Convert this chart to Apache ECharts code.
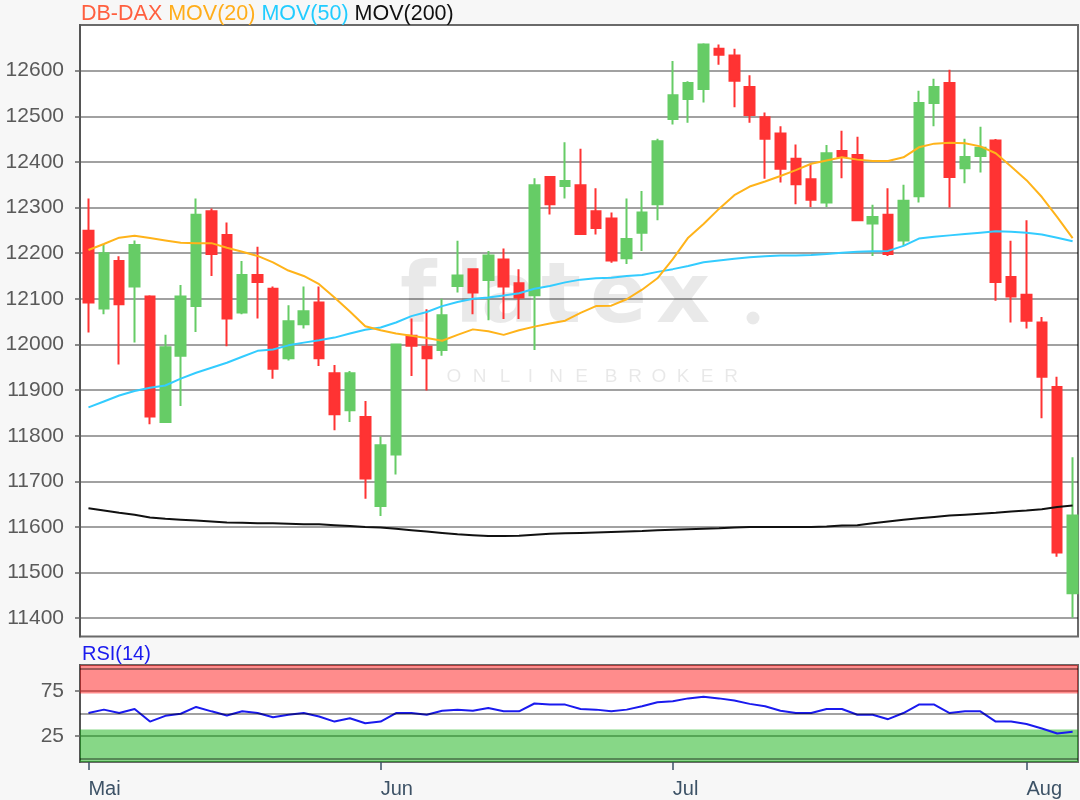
<!DOCTYPE html>
<html><head><meta charset="utf-8">
<script src="https://cdn.jsdelivr.net/npm/echarts@6/dist/echarts.min.js"></script>
<style>html,body{margin:0;padding:0;background:#f7f7f7}#c{width:1080px;height:800px}</style>
</head><body><div id="c"></div><script>
// ---- data ----
const monthLabels = ['Mai', 'Jun', 'Jul', 'Aug'];
const monthStartIndex = [0, 19, 38, 61];
const priceTicks = [11400, 11500, 11600, 11700, 11800, 11900, 12000, 12100, 12200, 12300, 12400, 12500, 12600];
const rsiTicks = [25, 75];
const rsiGuides = [0, 50, 100];

const opens  = [12249,12079,12183,12127,12105,11830,11975,12084,12292,12240,12070,12152,12122,11970,12044,12092,11937,11856,11841,11646,11759,12019,11995,11988,12128,12165,12141,12186,12134,12108,12367,12347,12349,12292,12276,12189,12245,12307,12494,12538,12560,12648,12633,12564,12498,12462,12407,12362,12311,12424,12415,12265,12284,12228,12325,12529,12573,12386,12413,12447,12148,12109,12048,11907,11455];
const closes = [12092,12200,12088,12218,11842,11994,12105,12284,12198,12057,12152,12137,11947,12051,12073,11970,11847,11937,11706,11779,12000,11997,11970,12064,12151,12114,12195,12127,12103,12349,12307,12358,12242,12255,12184,12231,12289,12445,12546,12573,12657,12635,12578,12503,12451,12385,12351,12317,12419,12412,12272,12279,12198,12315,12529,12564,12367,12411,12431,12137,12105,12052,11929,11544,11625];
const lows   = [12026,12066,11956,12004,11825,11828,11865,12027,12150,11996,12066,12057,11925,11965,12035,11953,11812,11830,11662,11624,11715,11931,11899,11975,12114,12066,12053,12056,12056,11988,12285,12320,12240,12241,12179,12176,12205,12272,12482,12486,12530,12613,12520,12486,12363,12355,12307,12301,12301,12364,12270,12194,12194,12216,12311,12478,12300,12353,12377,12096,12048,12035,11838,11535,11401];
const highs  = [12320,12220,12193,12228,12108,12021,12130,12320,12298,12267,12183,12214,12127,12086,12127,12127,11955,11942,11876,11798,12002,12057,12077,12100,12227,12167,12205,12210,12165,12364,12369,12443,12429,12342,12289,12320,12336,12451,12621,12577,12660,12657,12648,12590,12508,12478,12438,12395,12437,12468,12455,12306,12342,12350,12556,12582,12602,12451,12477,12450,12227,12272,12060,11929,11753];

const ma20  = [12207,12220,12234,12238,12233,12228,12223,12222,12222,12212,12203,12194,12180,12162,12150,12132,12103,12072,12040,12031,12024,12019,12014,12008,12021,12033,12029,12021,12031,12039,12046,12052,12069,12084,12085,12099,12120,12145,12187,12234,12264,12297,12327,12346,12357,12369,12382,12396,12403,12410,12405,12402,12402,12410,12432,12440,12442,12441,12434,12419,12390,12360,12323,12279,12233];
const ma50  = [11862,11875,11888,11898,11905,11910,11925,11938,11949,11960,11973,11986,11989,11998,12004,12009,12015,12024,12032,12037,12048,12062,12071,12084,12093,12100,12103,12107,12112,12122,12128,12136,12142,12145,12146,12150,12152,12159,12165,12172,12180,12184,12188,12191,12193,12195,12195,12196,12198,12201,12203,12204,12205,12216,12232,12236,12239,12242,12245,12248,12247,12245,12241,12234,12226];
const ma200 = [11641,11636,11631,11627,11621,11618,11616,11614,11612,11610,11609,11608,11608,11607,11606,11606,11604,11602,11600,11599,11596,11593,11590,11587,11584,11582,11580,11580,11581,11583,11585,11586,11587,11588,11589,11590,11591,11593,11594,11595,11596,11597,11599,11600,11600,11600,11600,11600,11601,11603,11604,11608,11612,11616,11619,11622,11625,11627,11629,11631,11634,11636,11639,11644,11647];
const rsi14 = [50.4,54.2,50.4,54.9,40.9,47.3,49.6,57.2,52.3,47.7,52.3,50.4,45.8,48.5,50.4,46.6,40.9,44.7,39.0,40.9,50.4,50.4,48.5,53.0,54.2,53.0,56.0,52.3,52.3,61.0,60.0,59.8,54.9,54.2,52.3,54.2,58.0,62.5,63.6,66.7,68.6,66.7,64.4,60.6,58.0,53.0,50.4,50.4,54.9,54.9,48.5,48.5,43.6,50.4,59.8,59.8,50.4,52.3,52.3,40.9,40.9,38.3,33.3,27.7,29.5];
const rsiOverbought = 72;
const rsiOversold = 32;

// ---- chart ----
const X_MIN = -0.55, X_MAX = 64.35;
const RSI_MIN = -4, RSI_MAX = 103.8;
const candleData = opens.map((o, i) => [i, o, closes[i], lows[i], highs[i]]);
const pts = arr => arr.map((v, i) => [i, v]);
const FONT = '"Liberation Sans", Arial, sans-serif';

const chart = echarts.init(document.getElementById('c'), null, {renderer: 'canvas'});

const wmLetters = [['f', 400], ['l', 455], ['a', 481], ['t', 541], ['e', 590], ['x', 656]];
const brokerLetters = 'ONLINEBROKER'.split('');
const brokerCenters = [454, 479.5, 505, 530.5, 556, 581.5, 611, 635, 659, 683, 707, 731];

const graphics = [];
wmLetters.forEach(([ch, x]) => graphics.push({
  type: 'text', z: 1, silent: true, x: x, y: 342,
  style: {text: ch, fill: 'rgba(0,0,0,0.085)', font: 'bold 84px "DejaVu Sans"', verticalAlign: 'bottom'}
}));
graphics.push({type: 'circle', z: 1, silent: true, shape: {cx: 753, cy: 318, r: 6.5}, style: {fill: 'rgba(0,0,0,0.085)'}});
brokerLetters.forEach((ch, i) => graphics.push({
  type: 'text', z: 1, silent: true, x: brokerCenters[i], y: 377,
  style: {text: ch, fill: 'rgba(0,0,0,0.09)', font: '19px "Liberation Sans"', align: 'center', verticalAlign: 'middle'}
}));

const plain = v => String(v);

const option = {
  animation: false,
  backgroundColor: '#f7f7f7',
  textStyle: {fontFamily: FONT},
  title: [
    {left: 81, top: 3, padding: 0,
     text: '{a|DB-DAX} {b|MOV(20)} {c|MOV(50)} {d|MOV(200)}',
     textStyle: {fontSize: 21.5, fontWeight: 'normal', fontFamily: FONT,
       rich: {
         a: {color: '#ff5f3f', fontSize: 21.5, fontFamily: FONT},
         b: {color: '#ffad1a', fontSize: 21.5, fontFamily: FONT},
         c: {color: '#22ccff', fontSize: 21.5, fontFamily: FONT},
         d: {color: '#111111', fontSize: 21.5, fontFamily: FONT}
       }}},
    {left: 82, top: 644, padding: 0, text: 'RSI(14)',
     textStyle: {fontSize: 20, fontWeight: 'normal', color: '#1a1aee', fontFamily: FONT}}
  ],
  graphic: graphics,
  grid: [
    {left: 80, right: 2, top: 25, height: 611.5, show: true, backgroundColor: '#ffffff', borderColor: '#6a6a6a', borderWidth: 2},
    {left: 80, right: 2, top: 665, height: 97, show: true, backgroundColor: '#ffffff', borderColor: '#6a6a6a', borderWidth: 2}
  ],
  xAxis: [
    {type: 'value', gridIndex: 0, min: X_MIN, max: X_MAX,
     axisLine: {show: false, onZero: false}, axisTick: {show: false}, axisLabel: {show: false}, splitLine: {show: false}},
    {type: 'value', gridIndex: 1, min: X_MIN, max: X_MAX, position: 'bottom',
     axisLine: {show: false, onZero: false},
     axisTick: {show: true, customValues: monthStartIndex, length: 8, lineStyle: {color: '#3d5266', width: 1.5}},
     axisLabel: {customValues: monthStartIndex, align: 'left', margin: 17, fontSize: 20, color: '#3d5266', fontFamily: FONT,
       formatter: v => monthLabels[monthStartIndex.indexOf(v)] || ''},
     splitLine: {show: false}}
  ],
  yAxis: [
    {type: 'value', gridIndex: 0, min: 11360, max: 12700, position: 'left',
     axisLine: {show: true, onZero: false, lineStyle: {color: '#555', width: 2}},
     axisTick: {show: true, customValues: priceTicks, length: 5, lineStyle: {color: '#666', width: 1.5}},
     axisLabel: {customValues: priceTicks, fontSize: 21, color: '#5a5a5a', margin: 16, fontFamily: FONT, formatter: plain},
     splitLine: {show: true, lineStyle: {color: 'rgba(0,0,0,0.37)', width: 2}}},
    {type: 'value', gridIndex: 1, min: RSI_MIN, max: RSI_MAX, position: 'left',
     axisLine: {show: true, onZero: false, lineStyle: {color: '#555', width: 2}},
     axisTick: {show: true, customValues: rsiTicks, length: 5, lineStyle: {color: '#666', width: 1.5}},
     axisLabel: {customValues: rsiTicks, fontSize: 21, color: '#5a5a5a', margin: 16, fontFamily: FONT, formatter: plain},
     splitLine: {show: true, lineStyle: {color: 'rgba(0,0,0,0.37)', width: 2}}}
  ],
  series: [
    {type: 'candlestick', xAxisIndex: 0, yAxisIndex: 0, data: candleData, barWidth: 10,
     itemStyle: {color: '#66cc66', color0: '#ff3333', borderColor: '#66cc66', borderColor0: '#ff3333', borderWidth: 2}},
    {type: 'line', name: 'MOV(200)', xAxisIndex: 0, yAxisIndex: 0, data: pts(ma200), showSymbol: false, z: 3,
     lineStyle: {color: '#111', width: 2}},
    {type: 'line', name: 'MOV(50)', xAxisIndex: 0, yAxisIndex: 0, data: pts(ma50), showSymbol: false, z: 3,
     lineStyle: {color: '#33ccff', width: 2}},
    {type: 'line', name: 'MOV(20)', xAxisIndex: 0, yAxisIndex: 0, data: pts(ma20), showSymbol: false, z: 3,
     lineStyle: {color: '#ffb31a', width: 2}},
    {type: 'line', name: 'RSI(14)', xAxisIndex: 1, yAxisIndex: 1, data: pts(rsi14), showSymbol: false, z: 4,
     lineStyle: {color: '#1a1aee', width: 2},
     markArea: {silent: true, itemStyle: {borderWidth: 0},
       data: [
         [{xAxis: X_MIN, yAxis: rsiOverbought, itemStyle: {color: 'rgba(255,0,0,0.45)'}}, {xAxis: X_MAX, yAxis: RSI_MAX}],
         [{xAxis: X_MIN, yAxis: RSI_MIN, itemStyle: {color: 'rgba(0,170,0,0.47)'}}, {xAxis: X_MAX, yAxis: rsiOversold}]
       ]},
     markLine: {silent: true, symbol: ['none', 'none'], label: {show: false},
       lineStyle: {color: 'rgba(0,0,0,0.37)', width: 2, type: 'solid'},
       data: rsiGuides.map(v => ({yAxis: v}))}}
  ]
};
chart.setOption(option);
</script></body></html>
